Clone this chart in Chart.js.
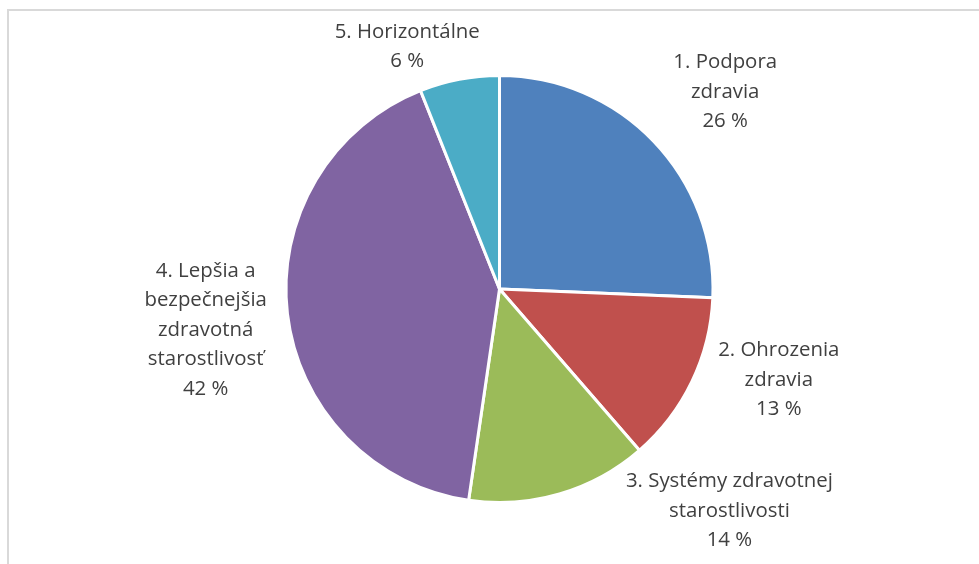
<!DOCTYPE html>
<html>
<head>
<meta charset="utf-8">
<script src="https://cdn.jsdelivr.net/npm/chart.js@4.4.1/dist/chart.umd.min.js"></script>
<style>
  html, body { margin: 0; padding: 0; background: #fff; overflow: hidden; }
  .wrap { position: relative; width: 979px; height: 564px; }
  .frame { position: absolute; left: 7px; top: 9px; width: 1100px; height: 700px; border: 2px solid #d9d9d9; box-sizing: border-box; }
  canvas { position: absolute; left: 0; top: 0; }
</style>
</head>
<body>
<div class="wrap">
  <div class="frame"></div>
  <canvas id="pieChart" width="979" height="564"></canvas>
</div>
<script>
// categories (wrapped the way the labels appear)
const categories = [
  ["1. Podpora", "zdravia"],
  ["2. Ohrozenia", "zdravia"],
  ["3. Systémy zdravotnej", "starostlivosti"],
  ["4. Lepšia a", "bezpečnejšia", "zdravotná", "starostlivosť"],
  ["5. Horizontálne"]
];
// share of each area, %
const shares = [25.66, 12.97, 13.68, 41.66, 6.03];
const sliceColors = ["#4f81bd", "#c0504d", "#9bbb59", "#8064a2", "#4bacc6"];

// label nudges from the slice's outside anchor (px)
const labelNudge = [[10, 10], [10, -39], [146, -65], [3, 6], [-36, 51]];

const outsideLabels = {
  id: "outsideLabels",
  afterDatasetsDraw(chart) {
    const ctx = chart.ctx;
    const meta = chart.getDatasetMeta(0);
    const data = chart.data.datasets[0].data;
    const total = data.reduce((a, b) => a + b, 0);
    const lineH = 29.5;
    ctx.save();
    ctx.font = "20.4px 'Open Sans'";
    ctx.fillStyle = "#404040";
    ctx.textAlign = "center";
    ctx.textBaseline = "middle";
    meta.data.forEach((arc, i) => {
      const mid = (arc.startAngle + arc.endAngle) / 2;
      const dist = arc.outerRadius * 1.4;
      const x = arc.x + Math.cos(mid) * dist + labelNudge[i][0];
      const y = arc.y + Math.sin(mid) * dist + labelNudge[i][1];
      const lines = chart.data.labels[i].concat([Math.round(data[i] / total * 100) + " %"]);
      const top = y - (lines.length - 1) * lineH / 2;
      lines.forEach((t, k) => ctx.fillText(t, x, top + k * lineH));
    });
    ctx.restore();
  }
};

new Chart(document.getElementById("pieChart"), {
  type: "pie",
  data: {
    labels: categories,
    datasets: [{
      data: shares,
      backgroundColor: sliceColors,
      borderColor: "#ffffff",
      borderWidth: 3
    }]
  },
  options: {
    responsive: false,
    animation: false,
    layout: { padding: { top: 74, bottom: 60, left: 20, right: 0 } },
    plugins: {
      legend: { display: false },
      tooltip: { enabled: false }
    }
  },
  plugins: [outsideLabels]
});
</script>
</body>
</html>
